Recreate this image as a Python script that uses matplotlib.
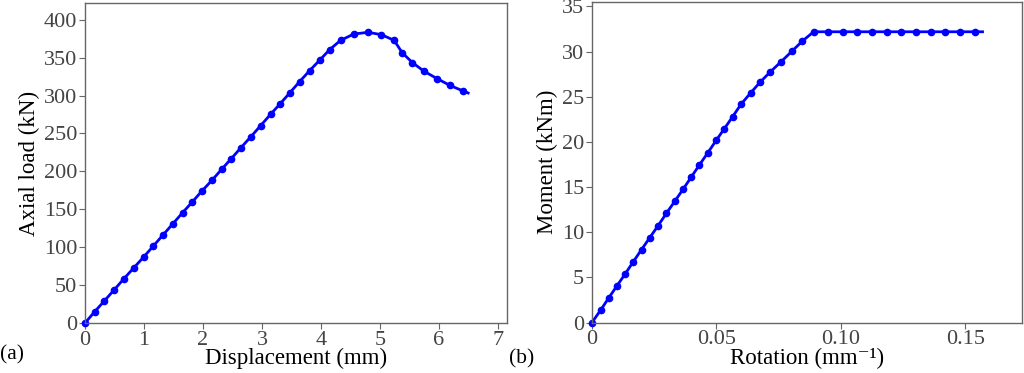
import matplotlib
matplotlib.use('Agg')
import matplotlib.pyplot as plt

# (a) axial load vs displacement
disp = [0.0, 0.164, 0.327, 0.497, 0.661, 0.824, 0.994, 1.158, 1.321, 1.485,
        1.654, 1.818, 1.982, 2.151, 2.315, 2.479, 2.643, 2.812, 2.976, 3.145,
        3.309, 3.473, 3.636, 3.806, 3.975, 4.145, 4.331, 4.557, 4.800, 5.025,
        5.240, 5.375, 5.550, 5.748, 5.968, 6.183, 6.409, 6.494]
load = [0.0, 14.9, 29.0, 44.0, 58.5, 72.5, 87.0, 101.5, 116.0, 130.5,
        145.5, 159.6, 174.1, 188.1, 202.6, 216.7, 231.2, 245.7, 260.2, 275.2,
        289.2, 303.7, 318.2, 332.7, 346.4, 360.4, 372.7, 381.1, 383.3, 380.2,
        372.7, 356.5, 343.3, 331.9, 322.2, 313.4, 305.9, 303.3]

# (b) moment vs rotation
rot = [0.0, 0.00348, 0.00669, 0.01004, 0.01338, 0.01659, 0.01994, 0.02328, 0.02663,
       0.02997, 0.03332, 0.03666, 0.03988, 0.04322, 0.04657, 0.04991, 0.05326,
       0.05660, 0.05995, 0.06383, 0.06757, 0.07172, 0.07600, 0.08029, 0.08457,
       0.08912, 0.09487, 0.10076, 0.10651, 0.11240, 0.11842, 0.12431, 0.13020,
       0.13609, 0.14197, 0.14786, 0.15375, 0.15696]
moment = [0.0, 1.37, 2.70, 4.06, 5.39, 6.72, 8.08, 9.41, 10.74,
          12.11, 13.44, 14.77, 16.09, 17.46, 18.79, 20.16, 21.48,
          22.81, 24.18, 25.43, 26.61, 27.76, 28.87, 30.01, 31.16,
          32.19, 32.19, 32.19, 32.19, 32.19, 32.19, 32.19, 32.19,
          32.19, 32.19, 32.19, 32.19, 32.19]

plt.rcParams['font.family'] = ['Liberation Serif', 'DejaVu Serif']

fig = plt.figure(figsize=(10.24, 3.73), dpi=100)
ax1 = fig.add_axes([0.083, 0.134, 0.412, 0.858])
ax2 = fig.add_axes([0.578, 0.135, 0.420, 0.860])

tick_col = '#444444'
spine_col = '#666666'

def style(ax):
    for s in ax.spines.values():
        s.set_color(spine_col)
        s.set_linewidth(1.0)
    ax.tick_params(direction='out', length=4, color=spine_col, labelcolor=tick_col,
                   labelsize=16, pad=1.5)

ax1.plot(disp, load, '-o', color='blue', lw=2, markersize=4.5,
         markevery=list(range(len(disp) - 1)), clip_on=False)
ax1.set_xlim(0, 7.15)
ax1.set_ylim(0, 422)
ax1.set_xticks(range(0, 8))
ax1.set_yticks(range(0, 401, 50))
ax1.set_xlabel('Displacement (mm)', fontsize=16.5, labelpad=-1)
ax1.set_ylabel('Axial load (kN)', fontsize=16.5, labelpad=3)
style(ax1)

ax2.plot(rot, moment, '-o', color='blue', lw=2, markersize=4.5,
         markevery=list(range(len(rot) - 1)), clip_on=False)
ax2.set_xlim(0, 0.1728)
ax2.set_ylim(0, 35.5)
ax2.set_xticks([0, 0.05, 0.10, 0.15])
ax2.set_xticklabels(['0', '0.05', '0.10', '0.15'])
ax2.set_yticks(range(0, 36, 5))
ax2.set_xlabel('Rotation (mm\u207b\u00b9)', fontsize=16.5, labelpad=-1)
ax2.set_ylabel('Moment (kNm)', fontsize=16.5, labelpad=3)
style(ax2)

fig.text(0.0, 0.035, '(a)', fontsize=15.5)
fig.text(0.497, 0.025, '(b)', fontsize=15.5)

fig.savefig('out.png', dpi=100)
